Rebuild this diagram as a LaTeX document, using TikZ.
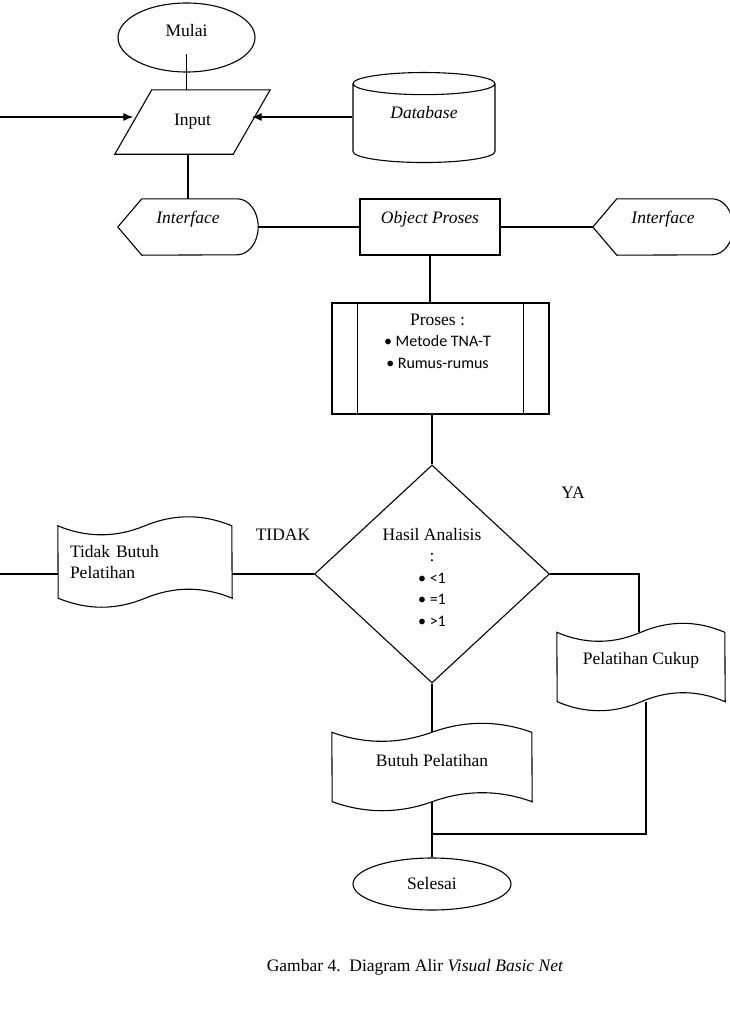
\documentclass[tikz,border=0pt]{standalone}
\usepackage{fontspec}
\setmainfont{Liberation Serif}
\newfontfamily\calibri{Carlito}
\usetikzlibrary{shapes.geometric,arrows.meta}

\newcommand\figfont{\fontsize{17.5}{21.5}\selectfont}
\newcommand\bul{\calibri\fontsize{16}{22}\selectfont\textbullet\ }

\begin{document}
\begin{tikzpicture}[x=1pt, y=-1pt,
	every node/.style={font=\figfont},
	box/.style={draw, line width=1.1pt, text height=12pt},
	terminal/.style={box, ellipse},
	paper/.style={text height=12pt},
	flow/.style={line width=1.1pt},
	arrow/.style={flow, -{Latex[length=10pt, width=8pt]}}]

	\useasboundingbox (0,0) rectangle (729,1036);

	%% Start, input and the database
	\node[terminal, minimum width=137, minimum height=69, text depth=15pt] (mulai) at (186.5,37.5) {Mulai};
	\node[minimum width=118, minimum height=64] (input) at (192.5,122) {Input};
	\draw[flow] ([xshift=-18.5]input.south west) -- ([xshift=18.5]input.north west)
		-- ([xshift=18.5]input.north east) -- ([xshift=-18.5]input.south east) -- cycle;
	\node[box, cylinder, shape border rotate=90, aspect=0.3, minimum width=142, minimum height=90,
		text depth=26pt] (db) at (424,125) {\textit{Database}};
	\coordinate (inleft) at (0,117);

	%% The interface row
	\begin{scope}[every node/.style={font=\figfont\itshape, minimum width=140, minimum height=56, text height=12pt, text depth=20pt}]
		\node (ifleft) at (188,227) {Interface};
		\node[box] (objek) at (430,227) {Object Proses};
		\node (ifright) at (663,227) {Interface};
	\end{scope}
	%% display outline round both interface nodes
	\foreach \n in {ifleft, ifright}{%
		\draw[flow] (\n.west) -- ([xshift=24]\n.north west) -- ([xshift=-21]\n.north east)
			arc[start angle=90, end angle=-90, x radius=21pt, y radius=28pt]
			-- ([xshift=24]\n.south west) -- cycle;
	}

	%% Predefined process
	\node[box, minimum width=217, minimum height=111] (proses) at (440.5,358.5) {};
	\draw[flow] ([xshift=26]proses.north west) -- ([xshift=26]proses.south west);
	\draw[flow] ([xshift=-26]proses.north east) -- ([xshift=-26]proses.south east);
	\node[anchor=north, align=center] (prosestext) at ([xshift=-3, yshift=-8]proses.north)
		{Proses :\\\bul Metode TNA-T\\\bul Rumus-rumus};

	%% Decision
	\node[draw, line width=1.1pt, diamond, minimum width=235, minimum height=218] (dec) at (432,574) {};
	\node[align=center] (dectext) at (432,577)
		{Hasil Analisis\\:\\\bul <1\\\bul =1\\\bul >1};
	\node (tidaklabel) at (283,535) {TIDAK};
	\node (yalabel) at (573,493) {YA};

	%% Outputs (punched tape)
	\node[paper, minimum width=174, minimum height=72, text width=150, align=left] (tidak) at (145,562) {Tidak Butuh\\Pelatihan};
	\node[paper, minimum width=168, minimum height=69, text depth=18pt] (cukup) at (641,667) {Pelatihan Cukup};
	\node[paper, minimum width=200, minimum height=69, text depth=14pt] (butuh) at (432,767) {Butuh Pelatihan};
	\foreach \n/\w in {tidak/174, cukup/168, butuh/200}{%
		\draw[flow] (\n.north west)
			.. controls +(\w/6,12) and +(-\w/6,12) .. ++(\w/2,0)
			.. controls +(\w/6,-12) and +(-\w/6,-12) .. ++(\w/2,0)
			-- (\n.south east)
			.. controls +(-\w/6,-12) and +(\w/6,-12) .. ++(-\w/2,0)
			.. controls +(-\w/6,12) and +(\w/6,12) .. ++(-\w/2,0)
			-- cycle;
	}
	\node[terminal, minimum width=158, minimum height=52] (selesai) at (432,884) {Selesai};
	\coordinate (outleft) at (0,574);
	\coordinate (join) at (431,834);

	\node (caption) at (415,967) {Gambar 4.\ \ Diagram Alir \textit{Visual Basic Net}};

	%% Connectors
	\draw[flow] ([yshift=-16.5]mulai.center) -- (mulai.center |- input.north);
	\draw[arrow] (inleft) -- (inleft -| input.west);
	\draw[arrow] (db.west |- inleft) -- (inleft -| input.east);
	\draw[flow] (ifleft.north |- input.south) -- (ifleft.north);
	\draw[flow] (ifleft.east) -- (objek.west);
	\draw[flow] (objek.east) -- (ifright.west);
	\draw[flow] (objek.south) -- (objek.south |- proses.north);
	\draw[flow] (dec.north |- proses.south) -- (dec.north);
	\draw[flow] (dec.west) -- (dec.west -| tidak.east);
	\draw[flow] (tidak.west |- dec.west) -- (outleft);
	\draw[flow] (dec.east) -| ([xshift=-2]cukup.north);
	\draw[flow] (dec.south) -- (butuh.north);
	\draw[flow] (butuh.south) -- (selesai.north);
	\draw[flow] ([xshift=5]cukup.south) |- (join);

\end{tikzpicture}
\end{document}
